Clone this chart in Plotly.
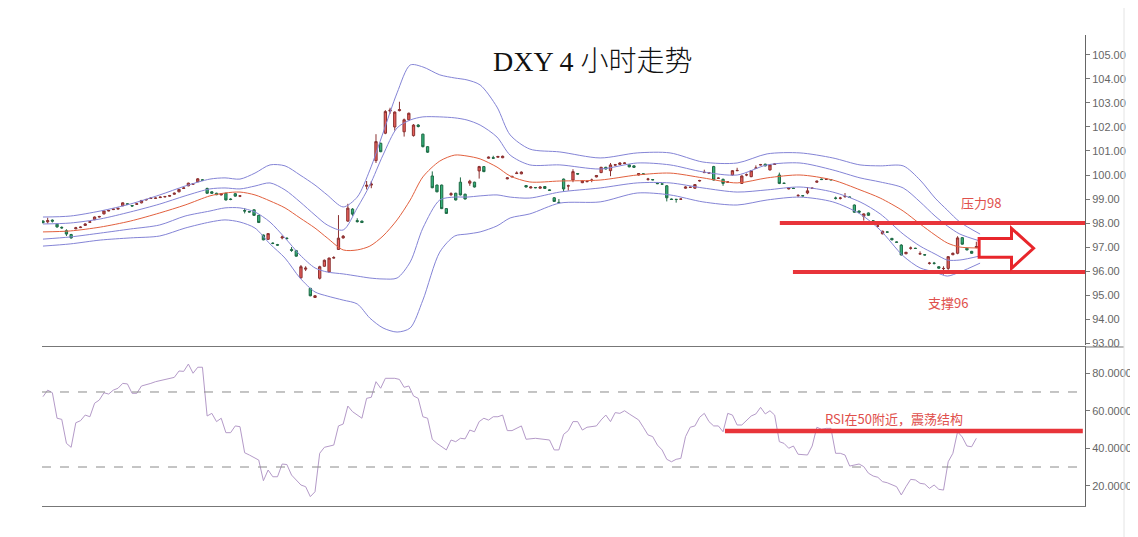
import plotly.graph_objects as go

# ---------------- candle data (4h DXY) ----------------
opens = [
    98.08, 98.05, 98.12, 97.95, 97.82, 97.68, 97.52, 97.76, 97.81, 97.90,
    98.03, 98.14, 98.25, 98.38, 98.50, 98.56, 98.58, 98.72, 98.80, 98.73,
    98.78, 98.84, 98.96, 99.02, 99.03, 99.06, 99.09, 99.12, 99.20, 99.30,
    99.44, 99.55, 99.62, 99.72, 99.80, 99.44, 99.30, 99.24, 99.17, 99.24,
    99.00, 99.22, 99.12, 98.52, 98.48, 98.55, 98.32, 97.50, 97.32, 97.16,
    97.10, 97.38, 97.37, 96.90, 96.85, 95.72, 96.08, 95.28, 94.90, 95.70,
    96.20, 95.96, 96.54, 96.90, 97.38, 98.08, 98.58, 98.10, 98.08, 99.53,
    99.58, 100.60, 101.32, 101.74, 102.66, 102.00, 102.68, 101.80, 102.30, 101.64,
    102.08, 101.70, 101.18, 99.96, 99.58, 99.58, 98.60, 99.18, 99.24, 99.70,
    99.20, 99.66, 99.70, 100.17, 100.35, 100.70, 100.72, 100.74, 100.72, 99.84,
    99.92, 100.06, 100.05, 99.56, 99.46, 99.48, 99.45, 99.52, 99.38, 99.05,
    98.86, 99.83, 99.54, 99.79, 100.06, 99.68, 99.72, 99.77, 99.92, 100.10,
    100.32, 100.18, 100.41, 100.44, 100.48, 100.42, 100.38, 100.00, 100.05, 99.82,
    99.81, 99.66, 99.63, 99.55, 99.00, 98.99, 98.99, 99.45, 99.48, 99.45,
    99.75, 100.10, 100.08, 100.35, 99.86, 99.82, 99.70, 100.00, 100.18, 99.65,
    100.00, 99.93, 100.28, 100.42, 100.45, 100.21, 100.44, 100.00, 99.66, 99.42,
    99.45, 99.14, 99.14, 99.25, 99.44, 99.70, 99.83, 99.82, 99.81, 99.04,
    99.03, 99.10, 99.08, 98.75, 98.50, 98.28, 98.42, 98.09, 97.87, 97.55,
    97.63, 97.36, 97.21, 97.08, 96.72, 96.95, 96.95, 96.71, 96.68, 96.32,
    96.33, 96.18, 96.10, 96.11, 96.68, 96.74, 97.39, 96.95, 96.82, 96.98,
]
highs = [
    98.12, 98.22, 98.15, 97.98, 97.86, 97.74, 97.55, 97.84, 97.86, 97.99,
    98.08, 98.27, 98.30, 98.52, 98.55, 98.60, 98.64, 98.86, 98.82, 98.75,
    98.83, 98.96, 99.01, 99.06, 99.06, 99.10, 99.13, 99.17, 99.27, 99.42,
    99.49, 99.68, 99.66, 99.87, 99.83, 99.47, 99.32, 99.26, 99.25, 99.26,
    99.03, 99.25, 99.16, 98.62, 98.50, 98.57, 98.34, 97.52, 97.58, 97.20,
    97.13, 97.48, 97.40, 97.00, 96.88, 96.25, 96.20, 95.30, 95.00, 96.22,
    96.48, 96.56, 96.62, 98.33, 97.50, 98.80, 98.62, 98.20, 98.10, 99.75,
    99.75, 101.70, 101.35, 102.70, 102.80, 102.65, 103.05, 102.35, 102.60, 102.12,
    102.12, 101.72, 101.20, 100.15, 99.60, 99.60, 98.62, 99.28, 99.26, 99.90,
    99.22, 99.80, 99.72, 100.38, 100.37, 100.77, 100.80, 100.80, 100.81, 99.91,
    99.97, 100.15, 100.15, 99.58, 99.53, 99.50, 99.53, 99.54, 99.40, 99.08,
    99.00, 99.85, 99.60, 100.24, 100.08, 99.78, 99.76, 99.85, 100.00, 100.34,
    100.34, 100.50, 100.46, 100.53, 100.53, 100.44, 100.40, 100.08, 100.07, 99.88,
    99.83, 99.68, 99.65, 99.58, 99.02, 99.00, 99.02, 99.53, 99.52, 99.62,
    99.80, 100.22, 100.12, 100.38, 99.90, 99.85, 99.74, 100.20, 100.30, 99.98,
    100.06, 100.20, 100.40, 100.46, 100.47, 100.44, 100.49, 100.10, 99.68, 99.49,
    99.47, 99.20, 99.16, 99.50, 99.48, 99.77, 99.85, 99.84, 99.83, 99.10,
    99.09, 99.25, 99.10, 98.77, 98.52, 98.40, 98.44, 98.11, 97.98, 97.68,
    97.65, 97.38, 97.23, 97.12, 96.80, 97.02, 96.97, 96.82, 96.70, 96.38,
    96.38, 96.20, 96.20, 96.62, 96.77, 97.45, 97.41, 96.97, 96.84, 97.22,
]
lows = [
    97.98, 97.98, 98.02, 97.80, 97.76, 97.46, 97.35, 97.74, 97.79, 97.88,
    98.01, 98.12, 98.23, 98.36, 98.49, 98.54, 98.56, 98.70, 98.75, 98.68,
    98.76, 98.82, 98.94, 99.00, 99.01, 99.04, 99.07, 99.10, 99.18, 99.28,
    99.42, 99.53, 99.59, 99.70, 99.76, 99.22, 99.22, 99.16, 99.15, 98.94,
    98.95, 99.10, 99.08, 98.40, 98.44, 98.30, 98.00, 97.28, 97.30, 97.12,
    97.05, 97.32, 97.33, 96.80, 96.60, 95.68, 96.00, 94.95, 94.88, 95.65,
    96.18, 95.94, 96.52, 96.88, 97.35, 98.05, 98.30, 98.02, 98.00, 99.40,
    99.45, 100.50, 100.95, 101.70, 102.55, 101.85, 102.65, 101.60, 102.28, 101.60,
    101.98, 101.15, 100.92, 99.45, 99.28, 98.58, 98.38, 99.12, 98.94, 99.15,
    98.98, 99.55, 99.48, 99.85, 100.12, 100.68, 100.68, 100.72, 100.70, 99.82,
    99.90, 100.04, 100.03, 99.48, 99.44, 99.45, 99.43, 99.42, 99.34, 98.88,
    98.84, 99.30, 99.35, 99.70, 100.02, 99.66, 99.70, 99.70, 99.90, 100.08,
    100.23, 99.95, 100.39, 100.42, 100.46, 100.32, 100.30, 99.98, 100.01, 99.76,
    99.78, 99.62, 99.60, 98.90, 98.96, 98.85, 98.97, 99.43, 99.46, 99.43,
    99.73, 100.08, 100.06, 99.77, 99.84, 99.55, 99.68, 99.98, 100.16, 99.63,
    99.95, 99.91, 100.26, 100.40, 100.36, 100.19, 100.42, 99.62, 99.63, 99.40,
    99.42, 99.08, 99.11, 99.20, 99.42, 99.68, 99.79, 99.80, 99.78, 98.98,
    98.98, 99.05, 99.05, 98.43, 98.43, 98.10, 98.30, 98.06, 97.85, 97.53,
    97.60, 97.28, 97.18, 96.65, 96.70, 96.89, 96.92, 96.69, 96.65, 96.27,
    96.27, 96.10, 95.85, 96.05, 96.66, 96.70, 97.10, 96.86, 96.72, 96.95,
]
closes = [
    98.02, 98.10, 98.08, 97.84, 97.80, 97.54, 97.38, 97.80, 97.83, 97.96,
    98.05, 98.25, 98.27, 98.50, 98.52, 98.58, 98.61, 98.84, 98.78, 98.71,
    98.80, 98.94, 98.98, 99.04, 99.04, 99.08, 99.10, 99.14, 99.24, 99.40,
    99.46, 99.66, 99.63, 99.84, 99.78, 99.24, 99.24, 99.18, 99.22, 98.96,
    98.98, 99.12, 99.13, 98.50, 98.46, 98.32, 98.02, 97.30, 97.56, 97.15,
    97.08, 97.42, 97.35, 96.86, 96.62, 96.18, 96.12, 94.97, 94.97, 96.18,
    96.45, 96.54, 96.56, 97.37, 97.45, 98.62, 98.37, 98.06, 98.02, 99.57,
    99.62, 101.39, 100.97, 102.64, 102.70, 102.62, 102.72, 102.30, 102.57, 102.08,
    102.02, 101.18, 100.95, 99.47, 99.30, 98.60, 98.40, 99.22, 98.96, 99.17,
    99.00, 99.74, 99.50, 100.35, 100.14, 100.74, 100.70, 100.77, 100.78, 99.88,
    99.94, 100.08, 100.12, 99.50, 99.50, 99.47, 99.50, 99.44, 99.36, 98.90,
    98.85, 99.42, 99.55, 100.14, 100.04, 99.75, 99.73, 99.79, 99.98, 100.32,
    100.25, 100.42, 100.43, 100.50, 100.50, 100.34, 100.32, 100.06, 100.03, 99.83,
    99.80, 99.64, 99.62, 99.05, 98.98, 98.98, 99.00, 99.50, 99.49, 99.60,
    99.77, 100.11, 100.09, 99.79, 99.87, 99.65, 99.71, 100.18, 100.19, 99.96,
    100.01, 100.18, 100.29, 100.43, 100.38, 100.42, 100.46, 99.65, 99.65, 99.46,
    99.44, 99.15, 99.13, 99.34, 99.45, 99.74, 99.81, 99.83, 99.80, 99.03,
    99.04, 99.11, 99.07, 98.45, 98.45, 98.38, 98.32, 98.08, 97.88, 97.66,
    97.62, 97.30, 97.20, 96.67, 96.78, 96.96, 96.94, 96.72, 96.67, 96.33,
    96.32, 96.12, 96.11, 96.60, 96.74, 97.38, 97.12, 96.88, 96.74, 97.02,
]
bar_index = list(range(len(closes)))

# ---------------- band lines ----------------
band_index = [0, 5.8, 12.2, 18.6, 24.9, 30.3, 35.6, 38.8, 42.0, 45.2, 48.4, 51.6,
              54.8, 58.0, 60.6, 64.0, 67.0, 69.7, 72.5, 75.5, 78.3, 81.0, 84.6,
              87.8, 90.4, 93.2, 96.8, 99.6, 103.8, 110.2, 118.8, 126.7, 133.7,
              140.7, 148.0, 154.4, 161.4, 168.4, 174.2, 178.5, 183.4, 187.0,
              190.2, 192.8, 195.5, 199.8]
upper_outer = [98.25, 98.29, 98.50, 98.79, 99.17, 99.54, 99.83, 99.88, 99.83, 100.08,
               100.42, 100.38, 100.00, 99.58, 99.17, 98.67, 99.08, 100.21, 101.75,
               103.42, 104.58, 104.50, 104.17, 104.04, 103.96, 103.75, 102.83,
               101.67, 101.08, 100.96, 100.71, 100.92, 100.92, 100.54, 100.50,
               100.88, 100.92, 100.71, 100.42, 100.38, 100.38, 99.79, 99.04, 98.54,
               98.04, 97.54]
upper_inner = [97.96, 98.00, 98.17, 98.46, 98.79, 99.13, 99.42, 99.46, 99.42, 99.54,
               99.67, 99.38, 98.88, 98.33, 97.92, 97.71, 98.63, 99.58, 100.83,
               101.96, 102.29, 102.42, 102.42, 102.38, 102.29, 102.08, 101.58,
               100.83, 100.42, 100.42, 100.25, 100.50, 100.42, 100.13, 100.00,
               100.42, 100.50, 100.21, 99.88, 99.71, 99.46, 98.88, 98.29, 97.88,
               97.54, 97.25]
middle_line = [97.63, 97.67, 97.83, 98.08, 98.42, 98.75, 99.13, 99.25, 99.29, 99.17,
               98.92, 98.63, 98.21, 97.79, 97.38, 96.88, 96.88, 97.04, 97.46, 98.13,
               98.96, 99.92, 100.58, 100.83, 100.79, 100.67, 100.33, 99.96, 99.71,
               99.75, 99.79, 100.00, 100.08, 99.88, 99.67, 99.88, 100.00, 99.79,
               99.38, 99.04, 98.50, 97.96, 97.50, 97.17, 97.00, 96.96]
lower_inner = [97.33, 97.42, 97.58, 97.75, 97.92, 98.29, 98.50, 98.63, 98.63, 98.46,
               98.04, 97.38, 96.67, 96.13, 95.96, 95.88, 95.79, 95.71, 95.67, 95.71,
               96.38, 97.79, 98.96, 99.08, 99.08, 99.13, 99.17, 99.08, 99.04, 99.29,
               99.46, 99.67, 99.67, 99.46, 99.29, 99.38, 99.50, 99.29, 98.88, 98.38,
               97.54, 97.04, 96.71, 96.46, 96.46, 96.63]
lower_outer = [97.04, 97.13, 97.29, 97.38, 97.46, 97.79, 98.04, 98.13, 98.04, 97.79,
               97.13, 96.54, 95.71, 95.13, 94.96, 94.79, 94.63, 94.04, 93.63, 93.46,
               93.63, 94.79, 96.79, 97.46, 97.54, 97.63, 97.88, 98.21, 98.38, 98.83,
               98.88, 99.25, 99.17, 98.88, 98.75, 98.96, 99.08, 98.88, 98.38, 97.71,
               96.63, 96.13, 95.96, 95.79, 95.96, 96.33]

# ---------------- RSI ----------------
rsi_index = [0, 1, 2, 3, 4, 5, 6, 7, 8, 9, 10, 11, 12, 13, 14, 15, 16, 17, 18, 19, 20,
             21, 23, 24, 28, 29, 30, 31, 32, 33, 34, 35, 36, 37, 38, 39, 40, 41, 42,
             43, 44, 46, 47, 48, 49, 50, 51, 52, 53, 54, 55, 56, 57, 58, 59, 60, 62,
             63, 64, 65, 66, 68, 69, 70, 71, 72, 73, 75, 76, 77, 78, 79, 80, 81, 82,
             83, 84, 86, 87, 88, 89, 90, 91, 92, 93, 94, 95, 96, 97, 98, 99, 100,
             102, 103, 105, 108, 109, 110, 111, 112, 113, 114, 115, 116, 118, 119,
             120, 121, 122, 123, 124, 125, 127, 128, 129, 130, 131, 132, 133, 134,
             135, 136, 137, 138, 139, 140, 141, 142, 143, 144, 145, 146, 147, 148,
             149, 151, 152, 153, 154, 155, 156, 157, 158, 159, 160, 161, 162, 163,
             164, 165, 166, 167, 168, 169, 170, 171, 172, 174, 175, 176, 177, 178,
             179, 180, 182, 183, 184, 185, 186, 187, 188, 189, 190, 191, 192, 193,
             194, 195, 196, 197, 198, 199]
rsi_value = [67.5, 71, 69.6, 56, 55.4, 42.6, 40.5, 53.6, 54.7, 57.7, 56.8, 64, 65.7,
             69.6, 68.9, 71, 72, 74.6, 74.3, 69.3, 69.3, 73.2, 74.6, 75.5, 77.8, 81.2,
             81, 84.9, 80, 83.2, 83.2, 57.2, 58.6, 54.2, 56, 48.3, 48.3, 51.9, 51.5,
             37.6, 36.4, 33.7, 22.7, 28.4, 24.8, 24.8, 31.6, 31.3, 25.7, 23.1, 20.4,
             19.5, 14.2, 16.8, 37.3, 40.5, 41.7, 51.9, 52.9, 62.5, 59.5, 56, 66.6,
             67.2, 75.5, 72, 77.3, 77.3, 76.7, 72.5, 73.2, 67.9, 66.6, 56.8, 56, 44.8,
             42.6, 39.1, 44.4, 43.5, 45.3, 45, 49.7, 48.8, 54.2, 56, 55, 56.8, 56.8,
             57.7, 49.4, 49.4, 51.9, 44.8, 45.3, 44.4, 39.1, 39.1, 47.4, 49.4, 54.2,
             54.2, 49.7, 51.2, 51.9, 55.1, 57.7, 54.2, 59, 58.6, 60, 58.3, 55.1, 51.2,
             47.1, 46.2, 41.7, 39.1, 34.1, 32.8, 34.1, 34.6, 46.2, 51.2, 51.9, 56.5,
             58.6, 54.2, 51.9, 51.9, 48.8, 58.6, 57.7, 52.4, 52.4, 57.2, 58.3, 61.8,
             58.3, 60, 57.7, 43.5, 42.6, 40, 41.2, 36.8, 36.4, 36.4, 41.2, 51.2, 50.1,
             50.6, 50.6, 37.3, 37.3, 36.4, 30.5, 31.6, 30.2, 26.7, 25.2, 24.5, 22.2,
             21.6, 19.5, 15.1, 19.5, 23.4, 23.1, 21.3, 20.9, 18.6, 20.4, 18.1, 17.7,
             32.8, 37.3, 48.8, 46, 41.2, 40.8, 45.3]

# ---------------- figure ----------------
PURPLE = "#8484d6"
RED_MA = "#e2603e"
MARK_RED = "#e8343a"
TEXT_RED = "#e0504c"

fig = go.Figure()
fig.add_trace(go.Candlestick(
    x=bar_index, open=opens, high=highs, low=lows, close=closes,
    increasing=dict(line=dict(color="#8a3030", width=1), fillcolor="#e8605a"),
    decreasing=dict(line=dict(color="#1f6a45", width=1), fillcolor="#34b27a"),
    whiskerwidth=0, xaxis="x", yaxis="y", showlegend=False, hoverinfo="skip"))

for arr, col in [(upper_outer, PURPLE), (upper_inner, PURPLE), (middle_line, RED_MA),
                 (lower_inner, PURPLE), (lower_outer, PURPLE)]:
    fig.add_trace(go.Scatter(x=band_index, y=arr, mode="lines",
                             line=dict(color=col, width=1, shape="spline", smoothing=0.8),
                             xaxis="x", yaxis="y", showlegend=False, hoverinfo="skip"))

fig.add_trace(go.Scatter(x=rsi_index, y=rsi_value, mode="lines",
                         line=dict(color="#b49ac8", width=1),
                         xaxis="x2", yaxis="y2", showlegend=False, hoverinfo="skip"))

axis_font = dict(family="Liberation Sans, Arial, sans-serif", size=11, color="#666")
X_RANGE = [-0.21, 222.17]

# page body has an 8px default margin, so the figure is sized/offset for it
fig.update_layout(
    width=1130, height=529,
    margin=dict(l=34, r=53, t=27, b=31, autoexpand=False),
    paper_bgcolor="white", plot_bgcolor="white",
    showlegend=False,
    xaxis=dict(domain=[0, 1], range=X_RANGE, anchor="y", showticklabels=False,
               showgrid=False, zeroline=False, showline=False, ticks="",
               automargin=False, rangeslider=dict(visible=False)),
    yaxis=dict(domain=[0.3418, 1], range=[92.92, 105.83], side="right", anchor="x",
               tick0=93, dtick=1, tickformat=".2f", ticks="outside", ticklen=4,
               tickcolor="#777", showline=True, linecolor="#666", linewidth=1,
               showgrid=False, zeroline=False, tickfont=axis_font, automargin=False),
    xaxis2=dict(domain=[0, 1], range=X_RANGE, anchor="y2", matches="x",
                showticklabels=False, showgrid=False, zeroline=False, automargin=False,
                showline=True, mirror=True, linecolor="#777", linewidth=1, ticks=""),
    yaxis2=dict(domain=[0, 0.3376], range=[9.2, 94], side="right", anchor="x2",
                tickvals=[20, 40, 60, 80], tickformat=".4f", ticks="outside",
                ticklen=4, tickcolor="#777", showline=True, linecolor="#666",
                linewidth=1, showgrid=False, zeroline=False, tickfont=axis_font,
                automargin=False),
)

shapes = []
for lvl in (70, 30):
    shapes.append(dict(type="line", xref="paper", x0=0, x1=1, yref="y2", y0=lvl, y1=lvl,
                       line=dict(color="#8a8a8a", width=1, dash="dash")))
# separator continuing under the price labels
shapes.append(dict(type="line", xref="paper", yref="paper", x0=1, x1=1.0374,
                   y0=0.3376, y1=0.3376, line=dict(color="#777", width=1)))
# analyst markings
shapes.append(dict(type="line", xref="x", yref="y", x0=157.1, x1=222.17, y0=98.0, y1=98.0,
                   line=dict(color=MARK_RED, width=4)))
shapes.append(dict(type="line", xref="x", yref="y", x0=159.9, x1=222.17, y0=95.96, y1=95.96,
                   line=dict(color=MARK_RED, width=4)))
shapes.append(dict(type="line", xref="x2", yref="y2", x0=145.4, x1=221.7, y0=49.2, y1=49.2,
                   line=dict(color=MARK_RED, width=4.5)))
shapes.append(dict(type="path", xref="x", yref="y",
                   path="M 199.6,97.36 L 206.5,97.36 L 206.5,97.78 L 211.2,96.95 "
                        "L 206.5,96.11 L 206.5,96.57 L 199.6,96.57 Z",
                   line=dict(color="#e8262b", width=3), fillcolor="white"))
shapes.append(dict(type="line", xref="paper", yref="paper", x0=1.0374, x1=1.0374,
                   y0=-0.07, y1=1.08, line=dict(color="#e4e4e4", width=1)))
fig.update_layout(shapes=shapes)

cjk = "Noto Sans CJK SC, sans-serif"
fig.add_annotation(text="DXY 4 小时走势", xref="paper", yref="paper", x=0.528, y=0.9427,
                   showarrow=False, xanchor="center", yanchor="middle",
                   font=dict(family="Liberation Serif, Noto Sans CJK SC, serif",
                             size=28, color="#111", weight=300))
fig.add_annotation(text="压力98", xref="x", yref="y", x=200, y=98.85, showarrow=False,
                   font=dict(family=cjk, size=13, color=TEXT_RED))
fig.add_annotation(text="支撑96", xref="x", yref="y", x=193, y=94.67, showarrow=False,
                   font=dict(family=cjk, size=13, color=TEXT_RED))
fig.add_annotation(text="RSI在50附近，震荡结构", xref="x2", yref="y2", x=181.4, y=56.1,
                   showarrow=False, font=dict(family=cjk, size=13, color=TEXT_RED))

fig.write_html("out.html")
